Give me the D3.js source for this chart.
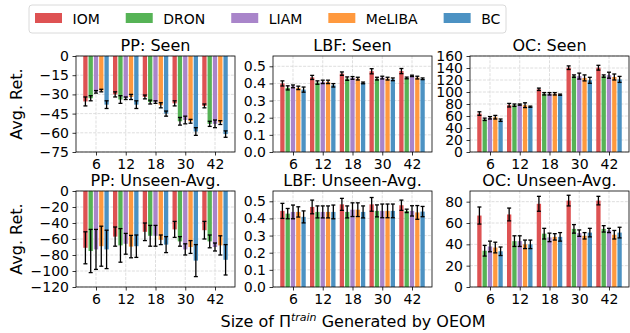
<!DOCTYPE html>
<html>
<head>
<meta charset="utf-8">
<script src="https://cdn.jsdelivr.net/npm/d3@7"></script>
<style>
  body { margin: 0; background: #fff; }
  text { font-family: "DejaVu Sans", sans-serif; fill: #000; }
</style>
</head>
<body>
<div id="chart"></div>
<script>
// methods, sizes and colours
var methods = ["IOM", "DRON", "LIAM", "MeLIBA", "BC"];
var sizes = ["6", "12", "18", "30", "42"];
var colors = ["#de5253", "#56b356", "#a985ca", "#ff993e", "#4c92c3"];

// one row per method, one value per size of the training set
var ppSeen = [
  [-35.5, -30, -32, -37, -39],
  [-33, -34, -36, -51, -53],
  [-28, -33, -36, -50, -53],
  [-27, -32, -38.5, -51, -52],
  [-38, -38, -45, -59, -61]
];
var ppSeenErr = [
  [3.5, 2, 1.5, 2, 1.5],
  [2, 3, 1.5, 3, 2],
  [1, 1, 1, 3, 3],
  [1, 2, 2, 1.5, 1.5],
  [3, 3, 2, 3, 2.5]
];
var lbfSeen = [
  [0.40, 0.435, 0.457, 0.471, 0.472],
  [0.374, 0.405, 0.428, 0.428, 0.432],
  [0.383, 0.409, 0.432, 0.434, 0.444],
  [0.374, 0.409, 0.428, 0.428, 0.434],
  [0.364, 0.389, 0.403, 0.424, 0.427]
];
var lbfSeenErr = [
  [0.015, 0.012, 0.01, 0.015, 0.015],
  [0.012, 0.01, 0.01, 0.008, 0.005],
  [0.008, 0.01, 0.008, 0.008, 0.004],
  [0.01, 0.01, 0.008, 0.008, 0.008],
  [0.015, 0.01, 0.005, 0.008, 0.005]
];
var ocSeen = [
  [64, 78, 104.5, 140.5, 140.5],
  [54.5, 78, 97, 126.5, 126.5],
  [57, 79, 97, 126.5, 128],
  [58, 78, 97, 123.5, 125],
  [53, 75.5, 95.5, 119.5, 121]
];
var ocSeenErr = [
  [3, 3, 2, 3, 4],
  [2, 2, 2, 2, 2],
  [2, 1, 2, 5, 5],
  [3, 4, 2, 5, 5],
  [2, 1, 1, 5, 5]
];
var ppUnseen = [
  [-71, -57, -51, -48, -49],
  [-75, -68, -56, -63, -63],
  [-73, -66, -56, -73, -70],
  [-69, -69.5, -61, -70, -68],
  [-73, -69, -67, -87, -86]
];
var ppUnseenErr = [
  [20, 12, 11, 10, 11],
  [27, 21, 13, 6, 8],
  [25, 13, 13, 7, 5],
  [25, 14, 6, 8, 12],
  [24, 14, 10, 20, 19]
];
var lbfUnseen = [
  [0.444, 0.467, 0.482, 0.482, 0.477],
  [0.428, 0.438, 0.438, 0.444, 0.444],
  [0.438, 0.438, 0.451, 0.444, 0.444],
  [0.438, 0.438, 0.451, 0.444, 0.435],
  [0.409, 0.438, 0.438, 0.444, 0.44]
];
var lbfUnseenErr = [
  [0.044, 0.04, 0.035, 0.04, 0.03],
  [0.03, 0.035, 0.035, 0.035, 0.01],
  [0.04, 0.035, 0.04, 0.04, 0.03],
  [0.03, 0.035, 0.04, 0.04, 0.04],
  [0.035, 0.04, 0.035, 0.04, 0.03]
];
var ocUnseen = [
  [67, 68, 78, 81, 81],
  [34, 43, 50, 54.5, 54.5],
  [38, 43, 46.5, 50.5, 53],
  [37, 40, 47, 48, 49],
  [33.5, 40, 47, 51, 51]
];
var ocUnseenErr = [
  [8, 6, 7, 5, 4],
  [5, 5, 5, 4, 3],
  [5, 5, 4, 3, 2],
  [5, 4, 3, 3, 4],
  [4, 4, 4, 4, 5]
];

// y tick labels
var ppSeenTicks = [0, -15, -30, -45, -60, -75];
var lbfTicks = [0, 0.1, 0.2, 0.3, 0.4, 0.5];
var ocSeenTicks = [0, 20, 40, 60, 80, 100, 120, 140, 160];
var ppUnseenTicks = [0, -20, -40, -60, -80, -100, -120];
var ocUnseenTicks = [0, 20, 40, 60, 80];

var panels = [
  { title: "PP: Seen", mean: ppSeen, err: ppSeenErr, domain: [-75, 0], ticks: ppSeenTicks, fmt: d3.format("d"), col: 0, row: 0 },
  { title: "LBF: Seen", mean: lbfSeen, err: lbfSeenErr, domain: [0, 0.56], ticks: lbfTicks, fmt: d3.format(".1f"), col: 1, row: 0 },
  { title: "OC: Seen", mean: ocSeen, err: ocSeenErr, domain: [0, 160], ticks: ocSeenTicks, fmt: d3.format("d"), col: 2, row: 0 },
  { title: "PP: Unseen-Avg.", mean: ppUnseen, err: ppUnseenErr, domain: [-120, 0], ticks: ppUnseenTicks, fmt: d3.format("d"), col: 0, row: 1 },
  { title: "LBF: Unseen-Avg.", mean: lbfUnseen, err: lbfUnseenErr, domain: [0, 0.56], ticks: lbfTicks, fmt: d3.format(".1f"), col: 1, row: 1 },
  { title: "OC: Unseen-Avg.", mean: ocUnseen, err: ocUnseenErr, domain: [0, 90], ticks: ocUnseenTicks, fmt: d3.format("d"), col: 2, row: 1 }
];

var svgWidth = 630;
var svgHeight = 333;
var lefts = [76, 273, 470];
var tops = [56, 191];
var W = 159;
var H = 96;
var pitch = 0.178;   // spacing of bars inside a group
var barW = 0.145;

var svg = d3.select("#chart")
  .append("svg")
  .attr("width", svgWidth)
  .attr("height", svgHeight);

panels.forEach(function(p) {
  var g = svg.append("g")
    .attr("transform", `translate(${lefts[p.col]}, ${tops[p.row]})`);

  var x = d3.scaleLinear().domain([-0.672, 4.672]).range([0, W]);
  var y = d3.scaleLinear().domain(p.domain).range([H, 0]);

  // grid
  g.append("g").selectAll("line.gy")
    .data(p.ticks)
    .enter()
    .append("line")
    .attr("x1", 0).attr("x2", W)
    .attr("y1", d => y(d)).attr("y2", d => y(d))
    .attr("stroke", "#d6d6d6").attr("stroke-width", 0.8)
    .attr("stroke-dasharray", "3,1.3");
  g.append("g").selectAll("line.gx")
    .data(d3.range(sizes.length))
    .enter()
    .append("line")
    .attr("x1", d => x(d)).attr("x2", d => x(d))
    .attr("y1", 0).attr("y2", H)
    .attr("stroke", "#d6d6d6").attr("stroke-width", 0.8)
    .attr("stroke-dasharray", "3,1.3");

  // bars + error bars
  var bw = x(barW) - x(0);
  methods.forEach(function(m, mi) {
    var cells = sizes.map(function(s, si) {
      return { cx: x(si + (mi - 2) * pitch), v: p.mean[mi][si], e: p.err[mi][si] };
    });
    g.append("g").selectAll("rect")
      .data(cells)
      .enter()
      .append("rect")
      .attr("x", d => d.cx - bw / 2)
      .attr("width", bw)
      .attr("y", d => Math.min(y(0), y(d.v)))
      .attr("height", d => Math.abs(y(d.v) - y(0)))
      .attr("fill", colors[mi]);

    var eg = g.append("g").selectAll("g")
      .data(cells)
      .enter()
      .append("g");
    eg.append("line")
      .attr("x1", d => d.cx).attr("x2", d => d.cx)
      .attr("y1", d => y(d.v - d.e)).attr("y2", d => y(d.v + d.e))
      .attr("stroke", "#000").attr("stroke-width", 1.3);
    [-1, 1].forEach(function(sg) {
      eg.append("line")
        .attr("x1", d => d.cx - 2).attr("x2", d => d.cx + 2)
        .attr("y1", d => y(d.v + sg * d.e)).attr("y2", d => y(d.v + sg * d.e))
        .attr("stroke", "#000").attr("stroke-width", 1.3);
    });
  });

  // axes
  var leftAxis = d3.axisLeft(y).tickValues(p.ticks).tickFormat(p.fmt).tickSize(3.5).tickPadding(3.5);
  var bottomAxis = d3.axisBottom(x).tickValues(d3.range(sizes.length)).tickFormat(i => sizes[i]).tickSize(3.5).tickPadding(3.5);

  var ly = g.append("g").call(leftAxis);
  var lx = g.append("g").attr("transform", `translate(0, ${H})`).call(bottomAxis);
  [ly, lx].forEach(function(a) {
    a.select(".domain").remove();
    a.selectAll("line").attr("stroke", "#000").attr("stroke-width", 0.8);
    a.selectAll("text").style("font-size", "14px").attr("font-family", "DejaVu Sans");
  });

  // frame
  g.append("rect")
    .attr("width", W).attr("height", H)
    .attr("fill", "none").attr("stroke", "#000").attr("stroke-width", 0.8);

  g.append("text")
    .attr("x", W / 2).attr("y", -5)
    .attr("text-anchor", "middle")
    .style("font-size", "16px")
    .text(p.title);

  if (p.col === 0) {
    g.append("text")
      .attr("transform", `translate(-54, ${H / 2}) rotate(-90)`)
      .attr("text-anchor", "middle")
      .style("font-size", "16px")
      .text("Avg. Ret.");
  }
});

// x label
var xl = svg.append("text")
  .attr("x", 353).attr("y", 327)
  .attr("text-anchor", "middle")
  .style("font-size", "16px");
xl.append("tspan").text("Size of Π");
xl.append("tspan").attr("dy", -6).style("font-size", "11px").style("font-style", "italic").text("train");
xl.append("tspan").attr("dy", 6).text(" Generated by OEOM");

// legend
var legend = svg.append("g");
legend.append("rect")
  .attr("x", 29).attr("y", 5).attr("width", 477).attr("height", 28).attr("rx", 3)
  .attr("fill", "#fff").attr("stroke", "#d0d0d0").attr("stroke-width", 0.8);
var lxPos = 35;
methods.forEach(function(m, i) {
  legend.append("rect")
    .attr("x", lxPos).attr("y", 13).attr("width", 27).attr("height", 10)
    .attr("fill", colors[i]);
  var t = legend.append("text")
    .attr("x", lxPos + 37.5).attr("y", 24)
    .style("font-size", "14px")
    .text(m);
  lxPos = lxPos + 37.5 + t.node().getComputedTextLength() + 26;
});
</script>
</body>
</html>
